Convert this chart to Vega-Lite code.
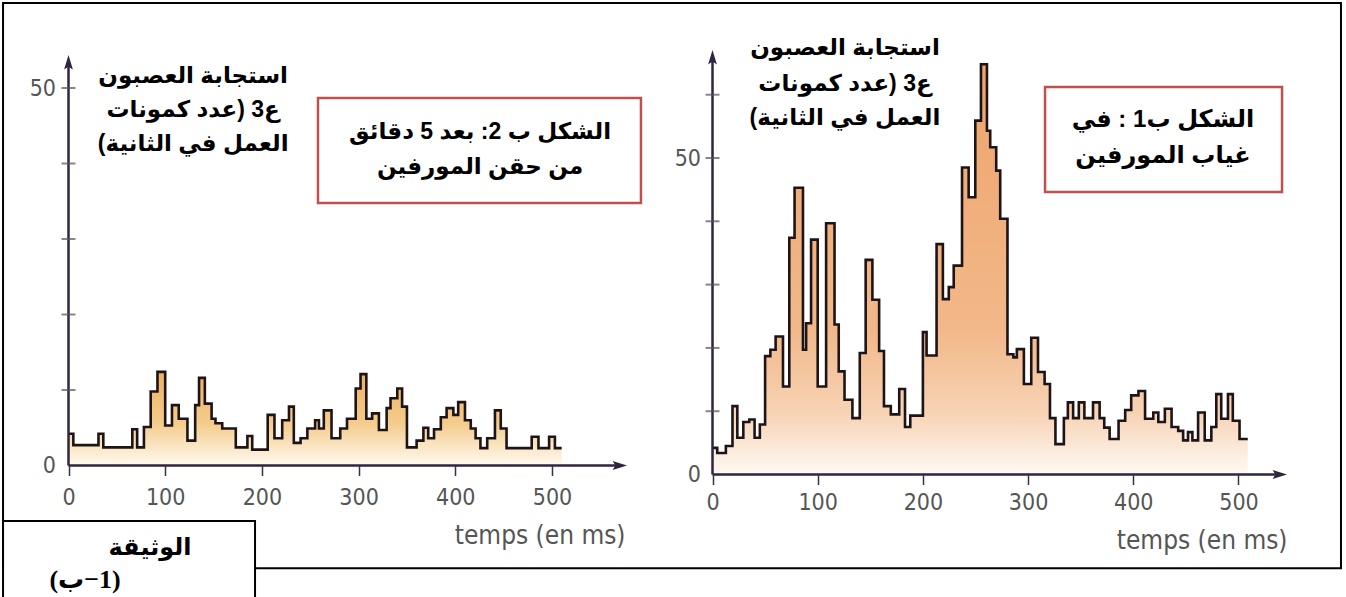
{
  "$schema": "https://vega.github.io/schema/vega-lite/v6.json",
  "width": 1346,
  "height": 597,
  "padding": 0,
  "autosize": {"type": "none"},
  "background": "white",
  "config": {"view": {"stroke": null}},
  "datasets": {
    "left": [
      {"t": 0, "v": 4.2}, {"t": 5, "v": 2.7}, {"t": 31, "v": 4.2}, {"t": 36, "v": 2.4}, {"t": 66, "v": 4.8},
      {"t": 71, "v": 2.4}, {"t": 78, "v": 5.1}, {"t": 85, "v": 9.8}, {"t": 92, "v": 12.4}, {"t": 100, "v": 5.3},
      {"t": 107, "v": 8.0}, {"t": 114, "v": 6.2}, {"t": 123, "v": 3.3}, {"t": 131, "v": 8.0}, {"t": 135, "v": 11.6},
      {"t": 141, "v": 8.2}, {"t": 148, "v": 6.2}, {"t": 152, "v": 5.6}, {"t": 159, "v": 4.9}, {"t": 173, "v": 2.4},
      {"t": 185, "v": 3.9}, {"t": 190, "v": 2.1}, {"t": 206, "v": 6.7}, {"t": 213, "v": 3.6}, {"t": 221, "v": 6.0},
      {"t": 228, "v": 7.8}, {"t": 233, "v": 3.0}, {"t": 240, "v": 3.6}, {"t": 247, "v": 4.9}, {"t": 255, "v": 6.0},
      {"t": 259, "v": 4.9}, {"t": 264, "v": 7.3}, {"t": 272, "v": 3.6}, {"t": 281, "v": 4.9}, {"t": 288, "v": 6.2},
      {"t": 297, "v": 10.2}, {"t": 302, "v": 12.1}, {"t": 308, "v": 6.2}, {"t": 314, "v": 6.9}, {"t": 321, "v": 4.7},
      {"t": 329, "v": 7.6}, {"t": 333, "v": 8.9}, {"t": 340, "v": 10.2}, {"t": 345, "v": 7.8}, {"t": 350, "v": 2.4},
      {"t": 360, "v": 3.3}, {"t": 367, "v": 5.0}, {"t": 372, "v": 3.6}, {"t": 378, "v": 4.8}, {"t": 385, "v": 6.4},
      {"t": 391, "v": 7.6}, {"t": 398, "v": 6.7}, {"t": 403, "v": 8.4}, {"t": 410, "v": 6.0}, {"t": 416, "v": 4.9},
      {"t": 421, "v": 3.6}, {"t": 426, "v": 2.3}, {"t": 433, "v": 3.6}, {"t": 441, "v": 7.3}, {"t": 447, "v": 4.9},
      {"t": 453, "v": 2.3}, {"t": 479, "v": 3.8}, {"t": 486, "v": 2.3}, {"t": 497, "v": 3.8}, {"t": 503, "v": 2.3},
      {"t": 510, "v": 2.3}
    ],
    "right": [
      {"t": 0, "v": 4.2}, {"t": 4.5, "v": 3.4}, {"t": 12.7, "v": 4.5}, {"t": 19, "v": 10.8}, {"t": 23.6, "v": 5.8},
      {"t": 29.3, "v": 8.3}, {"t": 35, "v": 8.7}, {"t": 40, "v": 5.8}, {"t": 45, "v": 7.9}, {"t": 50, "v": 18.7},
      {"t": 55, "v": 19.7}, {"t": 60, "v": 21.8}, {"t": 67, "v": 13.9}, {"t": 73, "v": 37.4}, {"t": 78, "v": 45.3},
      {"t": 86, "v": 19.7}, {"t": 89, "v": 23.9}, {"t": 93.7, "v": 37.1}, {"t": 100, "v": 13.9}, {"t": 108, "v": 39.7},
      {"t": 116, "v": 23.7}, {"t": 120, "v": 16.3}, {"t": 125.5, "v": 11.8}, {"t": 133, "v": 8.9}, {"t": 140, "v": 19.2},
      {"t": 145.6, "v": 33.9}, {"t": 152, "v": 27.6}, {"t": 158.4, "v": 19.5}, {"t": 163, "v": 10.8}, {"t": 169.5, "v": 9.5},
      {"t": 177.5, "v": 13.5}, {"t": 183, "v": 7.5}, {"t": 188, "v": 9.3}, {"t": 200, "v": 22.5}, {"t": 203.5, "v": 18.8},
      {"t": 213, "v": 36.4}, {"t": 219, "v": 27.7}, {"t": 224.6, "v": 29.6}, {"t": 229.3, "v": 33.0}, {"t": 237.2, "v": 48.5},
      {"t": 243.5, "v": 43.8}, {"t": 249.8, "v": 55.9}, {"t": 255.2, "v": 64.8}, {"t": 260.9, "v": 54.3}, {"t": 264, "v": 51.7},
      {"t": 269.7, "v": 48.0}, {"t": 273.5, "v": 40.4}, {"t": 280.4, "v": 19.0}, {"t": 286, "v": 18.5}, {"t": 289.3, "v": 19.8},
      {"t": 296, "v": 14.3}, {"t": 303, "v": 21.6}, {"t": 309.4, "v": 16.2}, {"t": 315.7, "v": 14.3}, {"t": 320.8, "v": 8.9},
      {"t": 326, "v": 4.8}, {"t": 334, "v": 8.9}, {"t": 337.8, "v": 11.4}, {"t": 342.8, "v": 8.9}, {"t": 348.2, "v": 11.4},
      {"t": 353.5, "v": 8.9}, {"t": 361.7, "v": 11.4}, {"t": 368, "v": 8.9}, {"t": 372.4, "v": 7.4}, {"t": 377.5, "v": 5.6},
      {"t": 386, "v": 8.5}, {"t": 392.3, "v": 10.2}, {"t": 398, "v": 12.5}, {"t": 404.9, "v": 13.2}, {"t": 411.2, "v": 8.8},
      {"t": 419, "v": 9.8}, {"t": 423.8, "v": 8.3}, {"t": 430, "v": 10.4}, {"t": 436.4, "v": 7.5}, {"t": 442.7, "v": 6.9},
      {"t": 447.4, "v": 5.4}, {"t": 452, "v": 6.7}, {"t": 456.2, "v": 5.4}, {"t": 461.6, "v": 9.8}, {"t": 467.9, "v": 5.4},
      {"t": 474.2, "v": 7.5}, {"t": 478.9, "v": 12.7}, {"t": 483.6, "v": 8.8}, {"t": 490, "v": 12.7}, {"t": 494.6, "v": 8.5},
      {"t": 501, "v": 5.6}, {"t": 508.8, "v": 5.6}
    ],
    "leftTicks": [{"v": 10}, {"v": 20}, {"v": 30}, {"v": 40}, {"v": 50}],
    "rightTicks": [{"v": 10}, {"v": 20}, {"v": 30}, {"v": 40}, {"v": 50}, {"v": 60}],
    "one": [{}]
  },
  "layer": [
    {
      "layer": [
        {
          "data": {"name": "left"},
          "mark": {
            "type": "area", "interpolate": "step-after",
            "color": {"gradient": "linear", "x1": 0, "y1": 0, "x2": 0, "y2": 1,
              "stops": [{"offset": 0, "color": "#eeb060"}, {"offset": 0.55, "color": "#f4cc8c"}, {"offset": 1, "color": "#fffaf0"}]}
          },
          "encoding": {
            "x": {"field": "t", "type": "quantitative", "scale": {"domain": [-70.84, 1321.1], "nice": false, "zero": false},
              "axis": {"orient": "bottom", "offset": -131.5, "values": [0, 100, 200, 300, 400, 500], "domain": false, "grid": false,
                "ticks": true, "tickSize": 10, "tickWidth": 1.5, "tickColor": "#3b3047", "zindex": 2,
                "labelFont": "Liberation Sans Narrow, DejaVu Sans Condensed, Liberation Sans", "labelFontSize": 23, "labelColor": "#555555",
                "labelPadding": 11, "labelFlush": false, "labelOverlap": false,
                "title": "temps (en ms)", "titleFont": "Liberation Sans Narrow, DejaVu Sans Condensed, Liberation Sans", "titleFontSize": 26,
                "titleFontWeight": "normal", "titleColor": "#555555", "titleX": 625, "titleY": 70, "titleAlign": "right", "titleBaseline": "middle"}},
            "y": {"field": "v", "type": "quantitative", "scale": {"domain": [-17.42, 61.66], "nice": false, "zero": false},
              "axis": {"orient": "left", "offset": -68.5, "values": [0, 50], "domain": false, "grid": false, "ticks": false, "zindex": 2,
                "labelFont": "Liberation Sans Narrow, DejaVu Sans Condensed, Liberation Sans", "labelFontSize": 23, "labelColor": "#555555",
                "labelPadding": 13, "labelFlush": false, "title": null}},
            "y2": {"datum": 0}
          }
        },
        {
          "data": {"name": "one"},
          "mark": {"type": "rect", "fill": null, "stroke": "#000000", "strokeWidth": 2},
          "encoding": {
            "x": {"datum": -67.7, "type": "quantitative"},
            "x2": {"datum": 1315.9},
            "y": {"datum": 61.26, "type": "quantitative"},
            "y2": {"datum": -13.6}
          }
        },
        {
          "data": {"name": "one"},
          "mark": {"type": "rect", "fill": "white", "stroke": "#000000", "strokeWidth": 2},
          "encoding": {
            "x": {"datum": -67.7, "type": "quantitative"},
            "x2": {"datum": 192.9},
            "y": {"datum": -7.35, "type": "quantitative"},
            "y2": {"datum": -18.5}
          }
        },
        {
          "data": {"name": "one"},
          "mark": {"type": "rect", "fill": "white", "stroke": "#c0504d", "strokeWidth": 2.5},
          "encoding": {
            "x": {"datum": 258.0, "type": "quantitative"},
            "x2": {"datum": 592.0},
            "y": {"datum": 48.68, "type": "quantitative"},
            "y2": {"datum": 34.77}
          }
        },
        {
          "data": {"name": "left"},
          "mark": {"type": "line", "interpolate": "step-after", "color": "#1e1418", "strokeWidth": 2.6},
          "encoding": {
            "x": {"field": "t", "type": "quantitative"},
            "y": {"field": "v", "type": "quantitative"}
          }
        },
        {
          "data": {"name": "one"},
          "mark": {"type": "rule", "color": "#2f2540", "strokeWidth": 2.5},
          "encoding": {
            "x": {"datum": 0, "type": "quantitative"},
            "y": {"datum": 0, "type": "quantitative"},
            "y2": {"datum": 53.3}
          }
        },
        {
          "data": {"name": "one"},
          "mark": {"type": "rule", "color": "#2f2540", "strokeWidth": 2.5},
          "encoding": {
            "x": {"datum": 0, "type": "quantitative"},
            "x2": {"datum": 569.3},
            "y": {"datum": 0, "type": "quantitative"}
          }
        },
        {
          "data": {"name": "one"},
          "mark": {"type": "point", "shape": "M0,-1L0.55,0.8L0,0.45L-0.55,0.8Z", "size": 256, "filled": true, "color": "#2f2540", "opacity": 1},
          "encoding": {
            "x": {"datum": 0, "type": "quantitative"},
            "y": {"datum": 53.3, "type": "quantitative"}
          }
        },
        {
          "data": {"name": "one"},
          "mark": {"type": "point", "shape": "M1,0L-0.8,0.55L-0.45,0L-0.8,-0.55Z", "size": 256, "filled": true, "color": "#2f2540", "opacity": 1},
          "encoding": {
            "x": {"datum": 569.3, "type": "quantitative"},
            "y": {"datum": 0, "type": "quantitative"}
          }
        },
        {
          "data": {"name": "leftTicks"},
          "mark": {"type": "tick", "orient": "horizontal", "size": 14, "thickness": 2, "color": "#5a5060"},
          "encoding": {
            "x": {"datum": 0, "type": "quantitative"},
            "y": {"field": "v", "type": "quantitative"}
          }
        },
        {
          "data": {"name": "one"},
          "mark": {"type": "text", "font": "Liberation Sans, DejaVu Sans", "fontWeight": "bold", "fontSize": 23, "color": "#000000", "align": "center", "baseline": "middle"},
          "encoding": {"x": {"datum": 128.9, "type": "quantitative"}, "y": {"datum": 51.59, "type": "quantitative"}, "text": {"value": "استجابة العصبون"}}
        },
        {
          "data": {"name": "one"},
          "mark": {"type": "text", "font": "Liberation Sans, DejaVu Sans", "fontWeight": "bold", "fontSize": 23, "color": "#000000", "align": "center", "baseline": "middle"},
          "encoding": {"x": {"datum": 128.9, "type": "quantitative"}, "y": {"datum": 47.09, "type": "quantitative"}, "text": {"value": "ع3 (عدد كمونات"}}
        },
        {
          "data": {"name": "one"},
          "mark": {"type": "text", "font": "Liberation Sans, DejaVu Sans", "fontWeight": "bold", "fontSize": 23, "color": "#000000", "align": "center", "baseline": "middle"},
          "encoding": {"x": {"datum": 128.9, "type": "quantitative"}, "y": {"datum": 42.58, "type": "quantitative"}, "text": {"value": "العمل في الثانية)‏"}}
        },
        {
          "data": {"name": "one"},
          "mark": {"type": "text", "font": "Liberation Sans, DejaVu Sans", "fontWeight": "bold", "fontSize": 23, "color": "#000000", "align": "center", "baseline": "middle"},
          "encoding": {"x": {"datum": 425.6, "type": "quantitative"}, "y": {"datum": 44.17, "type": "quantitative"}, "text": {"value": "الشكل ب 2: بعد 5 دقائق"}}
        },
        {
          "data": {"name": "one"},
          "mark": {"type": "text", "font": "Liberation Sans, DejaVu Sans", "fontWeight": "bold", "fontSize": 23, "color": "#000000", "align": "center", "baseline": "middle"},
          "encoding": {"x": {"datum": 425.6, "type": "quantitative"}, "y": {"datum": 39.54, "type": "quantitative"}, "text": {"value": "من حقن  المورفين"}}
        },
        {
          "data": {"name": "one"},
          "mark": {"type": "text", "font": "Liberation Sans, DejaVu Sans", "fontWeight": "bold", "fontSize": 24, "color": "#000000", "align": "center", "baseline": "middle"},
          "encoding": {"x": {"datum": 84.3, "type": "quantitative"}, "y": {"datum": -10.93, "type": "quantitative"}, "text": {"value": "الوثيقة"}}
        },
        {
          "data": {"name": "one"},
          "mark": {"type": "text", "font": "Liberation Serif, DejaVu Sans", "fontWeight": "bold", "fontSize": 26, "color": "#000000", "align": "center", "baseline": "middle"},
          "encoding": {"x": {"datum": 17.1, "type": "quantitative"}, "y": {"datum": -15.17, "type": "quantitative"}, "text": {"value": "‏(1−ب)‏"}}
        }
      ]
    },
    {
      "layer": [
        {
          "data": {"name": "right"},
          "mark": {
            "type": "area", "interpolate": "step-after",
            "color": {"gradient": "linear", "x1": 0, "y1": 0, "x2": 0, "y2": 1,
              "stops": [{"offset": 0, "color": "#eea46a"}, {"offset": 0.65, "color": "#f2b88a"}, {"offset": 0.85, "color": "#f7d3b4"}, {"offset": 1, "color": "#fffaf4"}]}
          },
          "encoding": {
            "x": {"field": "t", "type": "quantitative", "scale": {"domain": [-677.3, 602.2], "nice": false, "zero": false},
              "axis": {"orient": "bottom", "offset": -122.5, "values": [0, 100, 200, 300, 400, 500], "domain": false, "grid": false,
                "ticks": true, "tickSize": 10, "tickWidth": 1.5, "tickColor": "#3b3047", "zindex": 2,
                "labelFont": "Liberation Sans Narrow, DejaVu Sans Condensed, Liberation Sans", "labelFontSize": 23, "labelColor": "#555555",
                "labelPadding": 7, "labelFlush": false, "labelOverlap": false,
                "title": "temps (en ms)", "titleFont": "Liberation Sans Narrow, DejaVu Sans Condensed, Liberation Sans", "titleFontSize": 26,
                "titleFontWeight": "normal", "titleColor": "#555555", "titleX": 1287, "titleY": 66, "titleAlign": "right", "titleBaseline": "middle"}},
            "y": {"field": "v", "type": "quantitative", "scale": {"domain": [-19.35, 74.96], "nice": false, "zero": false},
              "axis": {"orient": "left", "offset": -712.5, "values": [0, 50], "domain": false, "grid": false, "ticks": false, "zindex": 2,
                "labelFont": "Liberation Sans Narrow, DejaVu Sans Condensed, Liberation Sans", "labelFontSize": 23, "labelColor": "#555555",
                "labelPadding": 12, "labelFlush": false, "title": null}},
            "y2": {"datum": 0}
          }
        },
        {
          "data": {"name": "one"},
          "mark": {"type": "rect", "fill": "white", "stroke": "#c0504d", "strokeWidth": 2.5},
          "encoding": {
            "x": {"datum": 316.1, "type": "quantitative"},
            "x2": {"datum": 541.4},
            "y": {"datum": 61.22, "type": "quantitative"},
            "y2": {"datum": 44.63}
          }
        },
        {
          "data": {"name": "right"},
          "mark": {"type": "line", "interpolate": "step-after", "color": "#1e1418", "strokeWidth": 2.6},
          "encoding": {
            "x": {"field": "t", "type": "quantitative"},
            "y": {"field": "v", "type": "quantitative"}
          }
        },
        {
          "data": {"name": "one"},
          "mark": {"type": "rule", "color": "#2f2540", "strokeWidth": 2.5},
          "encoding": {
            "x": {"datum": 0, "type": "quantitative"},
            "y": {"datum": 0, "type": "quantitative"},
            "y2": {"datum": 65.8}
          }
        },
        {
          "data": {"name": "one"},
          "mark": {"type": "rule", "color": "#2f2540", "strokeWidth": 2.5},
          "encoding": {
            "x": {"datum": 0, "type": "quantitative"},
            "x2": {"datum": 538.5},
            "y": {"datum": 0, "type": "quantitative"}
          }
        },
        {
          "data": {"name": "one"},
          "mark": {"type": "point", "shape": "M0,-1L0.55,0.8L0,0.45L-0.55,0.8Z", "size": 256, "filled": true, "color": "#2f2540", "opacity": 1},
          "encoding": {
            "x": {"datum": 0, "type": "quantitative"},
            "y": {"datum": 65.8, "type": "quantitative"}
          }
        },
        {
          "data": {"name": "one"},
          "mark": {"type": "point", "shape": "M1,0L-0.8,0.55L-0.45,0L-0.8,-0.55Z", "size": 256, "filled": true, "color": "#2f2540", "opacity": 1},
          "encoding": {
            "x": {"datum": 538.5, "type": "quantitative"},
            "y": {"datum": 0, "type": "quantitative"}
          }
        },
        {
          "data": {"name": "rightTicks"},
          "mark": {"type": "tick", "orient": "horizontal", "size": 14, "thickness": 2, "color": "#5a5060"},
          "encoding": {
            "x": {"datum": 0, "type": "quantitative"},
            "y": {"field": "v", "type": "quantitative"}
          }
        },
        {
          "data": {"name": "one"},
          "mark": {"type": "text", "font": "Liberation Sans, DejaVu Sans", "fontWeight": "bold", "fontSize": 23, "color": "#000000", "align": "center", "baseline": "middle"},
          "encoding": {"x": {"datum": 125.95, "type": "quantitative"}, "y": {"datum": 67.38, "type": "quantitative"}, "text": {"value": "استجابة العصبون"}}
        },
        {
          "data": {"name": "one"},
          "mark": {"type": "text", "font": "Liberation Sans, DejaVu Sans", "fontWeight": "bold", "fontSize": 23, "color": "#000000", "align": "center", "baseline": "middle"},
          "encoding": {"x": {"datum": 125.95, "type": "quantitative"}, "y": {"datum": 61.69, "type": "quantitative"}, "text": {"value": "ع3 (عدد كمونات"}}
        },
        {
          "data": {"name": "one"},
          "mark": {"type": "text", "font": "Liberation Sans, DejaVu Sans", "fontWeight": "bold", "fontSize": 23, "color": "#000000", "align": "center", "baseline": "middle"},
          "encoding": {"x": {"datum": 125.95, "type": "quantitative"}, "y": {"datum": 56.32, "type": "quantitative"}, "text": {"value": "العمل في الثانية)‏"}}
        },
        {
          "data": {"name": "one"},
          "mark": {"type": "text", "font": "Liberation Sans, DejaVu Sans", "fontWeight": "bold", "fontSize": 24, "color": "#000000", "align": "center", "baseline": "middle"},
          "encoding": {"x": {"datum": 428.2, "type": "quantitative"}, "y": {"datum": 56.0, "type": "quantitative"}, "text": {"value": "الشكل ب1 : في"}}
        },
        {
          "data": {"name": "one"},
          "mark": {"type": "text", "font": "Liberation Sans, DejaVu Sans", "fontWeight": "bold", "fontSize": 24, "color": "#000000", "align": "center", "baseline": "middle"},
          "encoding": {"x": {"datum": 428.2, "type": "quantitative"}, "y": {"datum": 50.32, "type": "quantitative"}, "text": {"value": "غياب المورفين"}}
        }
      ]
    }
  ],
  "resolve": {"scale": {"x": "independent", "y": "independent"}, "axis": {"x": "independent", "y": "independent"}}
}
